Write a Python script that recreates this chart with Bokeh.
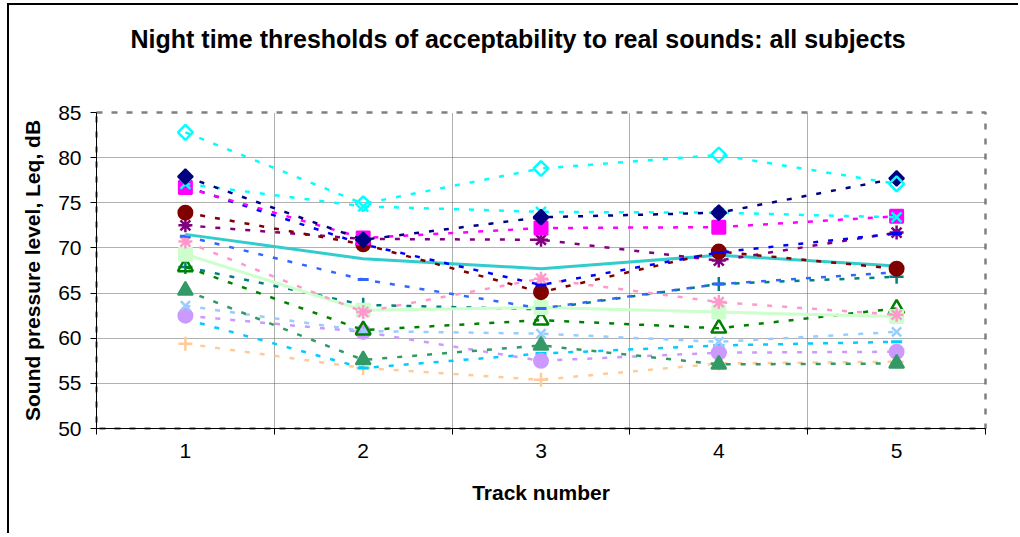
import math
from bokeh.plotting import figure
from bokeh.models import FixedTicker, Title
from bokeh.embed import file_html
from bokeh.resources import INLINE

# ---- data ----
tracks = [1, 2, 3, 4, 5]
y_ticks = [50, 55, 60, 65, 70, 75, 80, 85]

s_cyan_diamond = [82.8, 74.9, 78.8, 80.3, 77.1]
s_navy = [77.9, 70.9, 73.4, 73.9, 77.7]
s_magenta = [76.7, 71.1, 72.2, 72.3, 73.5]
s_cyan_x = [77.1, 74.6, 74.0, 73.9, 73.4]
s_blue = [76.8, 70.4, 65.9, 69.5, 71.6]
s_maroon = [73.9, 70.4, 65.1, 69.6, 67.7]
s_purple = [72.5, 71.0, 70.9, 68.6, 71.7]
s_aqua = [71.5, 68.8, 67.7, 69.2, 68.0]
s_royal = [71.3, 66.5, 63.3, 66.0, 67.3]
s_rose = [70.7, 62.9, 66.6, 64.0, 62.6]
s_lgreen = [69.3, 63.1, 63.4, 62.9, 62.4]
s_green = [67.9, 60.9, 62.0, 61.1, 63.3]
s_teal = [67.9, 63.7, 63.2, 66.0, 66.8]
s_sea = [65.3, 57.6, 59.2, 57.1, 57.2]
s_pale = [63.6, 60.8, 60.5, 59.6, 60.7]
s_lav = [62.5, 60.7, 57.5, 58.4, 58.5]
s_sky = [62.1, 56.7, 58.3, 59.2, 59.6]
s_tan = [59.4, 56.7, 55.4, 57.2, 57.4]

FONT = "Liberation Sans"

p = figure(width=1011, height=530, x_range=(0.5, 5.5), y_range=(50, 85),
           output_backend="svg", toolbar_location=None,
           min_border_left=87, min_border_right=35,
           min_border_top=107, min_border_bottom=107)
p.styles = {"border-left": "2px solid black", "border-top": "2px solid black",
            "margin-left": "7px", "margin-top": "3px"}

# spacer between title and plot area, then the title itself
p.add_layout(Title(text=" ", text_font_size="10px", standoff=47), "above")
p.add_layout(Title(text="Night time thresholds of acceptability to real sounds: all subjects",
                   align="left", text_font=FONT, text_font_size="25px",
                   text_font_style="bold", text_color="black", standoff=0, offset=34),
             "above")

p.outline_line_color = "#808080"
p.outline_line_width = 2.5
p.outline_line_dash = "6 9"

# y axis
p.yaxis.ticker = FixedTicker(ticks=y_ticks, minor_ticks=[])
p.yaxis.major_tick_out = 6
p.yaxis.major_tick_in = 0
p.yaxis.minor_tick_out = 0
p.yaxis.axis_line_color = "black"
p.yaxis.major_tick_line_color = "black"
p.yaxis.major_label_standoff = 9
p.yaxis.major_label_text_font = FONT
p.yaxis.major_label_text_font_size = "21px"
p.yaxis.major_label_text_color = "black"
p.yaxis.axis_label = "Sound pressure level, Leq, dB"
p.yaxis.axis_label_text_font = FONT
p.yaxis.axis_label_text_font_size = "21px"
p.yaxis.axis_label_text_font_style = "bold"
p.yaxis.axis_label_text_color = "black"
p.yaxis.axis_label_standoff = 11

# x axis: labels at tracks, tick marks between categories
p.xaxis.ticker = FixedTicker(ticks=tracks, minor_ticks=[0.5, 1.5, 2.5, 3.5, 4.5, 5.5])
p.xaxis.major_tick_line_color = None
p.xaxis.major_tick_out = 6
p.xaxis.major_tick_in = 0
p.xaxis.minor_tick_out = 6
p.xaxis.minor_tick_in = 0
p.xaxis.minor_tick_line_color = "black"
p.xaxis.axis_line_color = "black"
p.xaxis.major_label_standoff = 9
p.xaxis.major_label_text_font = FONT
p.xaxis.major_label_text_font_size = "21px"
p.xaxis.major_label_text_color = "black"
p.xaxis.axis_label = "Track number"
p.xaxis.axis_label_text_font = FONT
p.xaxis.axis_label_text_font_size = "21px"
p.xaxis.axis_label_text_font_style = "bold"
p.xaxis.axis_label_text_color = "black"
p.xaxis.axis_label_standoff = 20

p.xgrid.ticker = FixedTicker(ticks=[1.5, 2.5, 3.5, 4.5])
p.ygrid.ticker = FixedTicker(ticks=y_ticks)
for g in (p.xgrid, p.ygrid):
    g.grid_line_color = "#606060"
    g.grid_line_dash = "1 1"
    g.grid_line_width = 1

DASH = "5 10"
ROT = math.pi / 4

def series(vals, color, marker, size, filled=True, solid=False, lw=2.5, mlw=2, angle=0.0):
    if solid:
        p.line(tracks, vals, line_color=color, line_width=3)
    else:
        p.line(tracks, vals, line_color=color, line_width=lw, line_dash=DASH)
    if marker is None:
        return
    p.scatter(tracks, vals, marker=marker, size=size, angle=angle,
              fill_color=color if filled else None,
              line_color=color, line_width=mlw)

series(s_tan, "#FFCC99", "cross", 14, mlw=2.5)
series(s_sky, "#00CCFF", "dash", 11, mlw=3)
series(s_lav, "#CC99FF", "circle", 14)
series(s_pale, "#99CCFF", "x", 13, mlw=2.5)
series(s_sea, "#339966", "triangle", 15)
series(s_teal, "#008080", "cross", 14, mlw=2.5)
series(s_green, "#008000", "triangle", 15, filled=False, mlw=2.5)
series(s_lgreen, "#CCFFCC", "square", 13, solid=True)
series(s_rose, "#FF99CC", "asterisk", 14, mlw=2.5)
series(s_royal, "#3366FF", "dash", 11, mlw=3)
series(s_aqua, "#33CCCC", None, 0, solid=True)
series(s_purple, "#800080", "asterisk", 14, mlw=2.5)
series(s_maroon, "#800000", "circle", 14)
series(s_blue, "#0000FF", "dash", 11, mlw=3)
series(s_magenta, "#FF00FF", "square", 13)
series(s_cyan_x, "#00FFFF", "x", 14, mlw=2.5)
series(s_navy, "#000080", "square", 10.5, angle=ROT)
series(s_cyan_diamond, "#00FFFF", "square", 10.5, filled=False, mlw=2.5, angle=ROT)

open("out.html", "w").write(file_html(p, INLINE))
